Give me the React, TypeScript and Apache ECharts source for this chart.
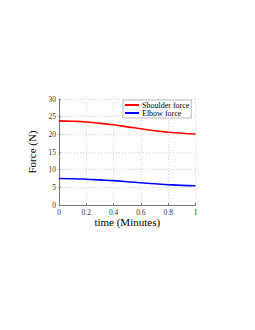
import React, { useEffect, useRef } from "react";
import * as echarts from "echarts";

const times = [0, 0.1, 0.2, 0.3, 0.4, 0.5, 0.6, 0.7, 0.8, 0.9, 1];
const shoulderForce = [23.8, 23.7, 23.5, 23.1, 22.7, 22.1, 21.6, 21.0, 20.6, 20.3, 20.1];
const elbowForce = [7.5, 7.45, 7.3, 7.1, 6.9, 6.6, 6.3, 6.0, 5.75, 5.55, 5.45];
const yTicks = { min: 0, max: 30, interval: 5 };
const xTicks = { min: 0, max: 1, interval: 0.2 };

const font = "'Liberation Serif', 'DejaVu Serif', serif";

export default function App() {
  const ref = useRef<HTMLDivElement>(null);
  useEffect(() => {
    const chart = echarts.init(ref.current!, null, { renderer: "svg" });
    chart.setOption({
      animation: false,
      grid: { left: 59, right: 59.5, top: 99, bottom: 125 },
      legend: {
        show: true,
        orient: "vertical",
        left: 123,
        top: 100,
        itemWidth: 14,
        itemHeight: 2,
        itemGap: 0,
        padding: [1, 2, 1, 2],
        borderColor: "#aaa",
        borderWidth: 0.8,
        backgroundColor: "#fff",
        textStyle: { fontFamily: font, fontSize: 8, fontWeight: "normal", color: "#000", padding: [0, 0, 0, -2] },
        data: [
          { name: "Shoulder force", icon: "rect" },
          { name: "Elbow force", icon: "rect" },
        ],
      },
      xAxis: {
        type: "value",
        min: xTicks.min,
        max: xTicks.max,
        interval: xTicks.interval,
        name: "time (Minutes)",
        nameLocation: "middle",
        nameGap: 11,
        nameTextStyle: { fontFamily: font, fontSize: 11, fontWeight: "normal", color: "#000" },
        axisLine: { lineStyle: { color: "#777", width: 1 } },
        axisTick: { inside: true, length: 2, lineStyle: { color: "#777" } },
        axisLabel: { fontFamily: font, fontSize: 7.5, color: "#333", margin: 3 },
        splitLine: { show: true, lineStyle: { color: "#ccc", type: [1, 2], width: 0.8 } },
      },
      yAxis: {
        type: "value",
        min: yTicks.min,
        max: yTicks.max,
        interval: yTicks.interval,
        name: "Force (N)",
        nameLocation: "middle",
        nameGap: 13,
        nameTextStyle: { fontFamily: font, fontSize: 11, fontWeight: "normal", color: "#000" },
        axisLine: { show: true, lineStyle: { color: "#777", width: 1 } },
        axisTick: { show: true, inside: true, length: 2, lineStyle: { color: "#777" } },
        axisLabel: { fontFamily: font, fontSize: 7.5, color: "#333", margin: 3 },
        splitLine: { show: true, lineStyle: { color: "#ccc", type: [1, 2], width: 0.8 } },
      },
      series: [
        {
          name: "Shoulder force",
          type: "line",
          smooth: true,
          showSymbol: false,
          color: "#ff0000",
          lineStyle: { width: 1.6, color: "#ff0000" },
          data: times.map((t, i) => [t, shoulderForce[i]]),
        },
        {
          name: "Elbow force",
          type: "line",
          smooth: true,
          showSymbol: false,
          color: "#0000ff",
          lineStyle: { width: 1.6, color: "#0000ff" },
          data: times.map((t, i) => [t, elbowForce[i]]),
        },
      ],
    });
    return () => chart.dispose();
  }, []);
  return (
    <div
      ref={ref}
      style={{ position: "fixed", left: 0, top: 0, width: 255, height: 330, background: "#fff" }}
    />
  );
}
